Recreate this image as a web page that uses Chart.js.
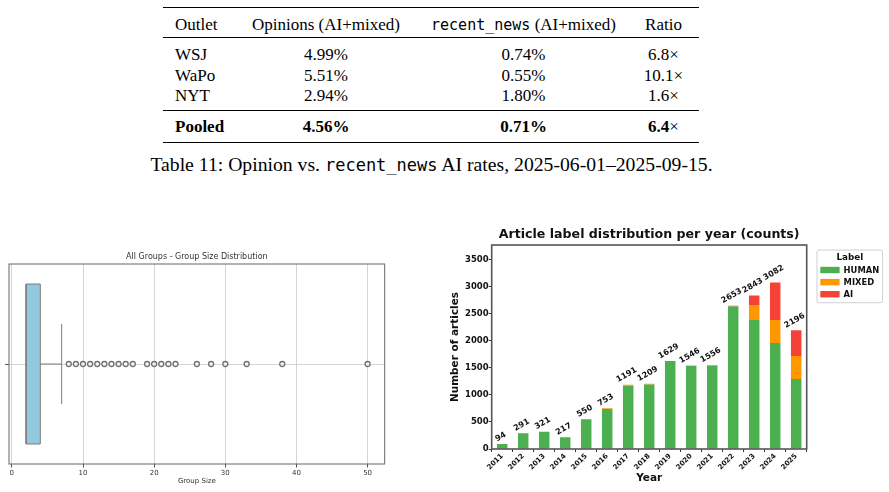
<!DOCTYPE html>
<html>
<head>
<meta charset="utf-8">
<script src="https://cdn.jsdelivr.net/npm/chart.js@4.4.0/dist/chart.umd.min.js"></script>
<style>
    body { margin: 0; background: #fff; width: 889px; height: 492px; overflow: hidden; position: relative; font-family: 'Liberation Serif', serif; color: #000; }
    .t { position: absolute; font-size: 17px; line-height: 17px; white-space: nowrap; }
    .c { text-align: center; width: 220px; }
    .tt { font-family: 'DejaVu Sans Mono', monospace; font-size: 15px; }
    .rule { position: absolute; left: 163px; width: 536px; background: #000; }
    #caption { position: absolute; left: 0; width: 863px; top: 155.3px; text-align: center; font-size: 19.7px; line-height: 19.7px; white-space: nowrap; }
    #caption .tt { font-size: 17px; }
    canvas { position: absolute; }
</style>
</head>
<body>
<div id="table"></div>
<div id="caption">Table 11: Opinion vs. <span class="tt">recent_news</span> AI rates, 2025-06-01–2025-09-15.</div>
<canvas id="GroupSizeChart" width="390" height="252" style="left:0;top:240px"></canvas>
<canvas id="YearLabelChart" width="449" height="272" style="left:440px;top:220px"></canvas>
<script>
// table
var Outlets = ['WSJ', 'WaPo', 'NYT']
var OpinionRate = ['4.99%', '5.51%', '2.94%']
var RecentNewsRate = ['0.74%', '0.55%', '1.80%']
var RatioValue = ['6.8', '10.1', '1.6']
var PooledRow = ['Pooled', '4.56%', '0.71%', '6.4']

// bar chart
var Years = ['2011', '2012', '2013', '2014', '2015', '2016', '2017', '2018', '2019', '2020', '2021', '2022', '2023', '2024', '2025']
var CountHuman = [94, 291, 321, 217, 550, 738, 1171, 1194, 1629, 1536, 1546, 2638, 2389, 1963, 1296]
var CountMixed = [0, 0, 0, 0, 0, 15, 20, 15, 0, 10, 10, 0, 278, 426, 426]
var CountAI = [0, 0, 0, 0, 0, 0, 0, 0, 0, 0, 0, 15, 176, 693, 474]
var CountTicks = [0, 500, 1000, 1500, 2000, 2500, 3000, 3500]

// box plot
var GroupQuartiles = [2, 4]
var GroupWhisker = [4, 7]
var GroupOutliers = [8, 9, 10, 11, 12, 13, 14, 15, 16, 17, 19, 20, 21, 22, 23, 26, 28, 30, 33, 38, 50]
var GroupTicks = [0, 10, 20, 30, 40, 50]

// ---- table built as html
var colCenters = [326, 523.5, 663.5]
var rowTops = [45.8, 66.5, 86.5]
var html = ''
function cell(text, left, top, center, bold) {
    var s = '<div class="t' + (center ? ' c' : '') + '" style="left:' + (center ? left - 110 : left) + 'px;top:' + top + 'px">'
    return s + (bold ? '<b>' + text + '</b>' : text) + '</div>'
}
html += '<div class="rule" style="top:6.6px;height:1.4px"></div>'
html += '<div class="rule" style="top:36.8px;height:0.9px"></div>'
html += '<div class="rule" style="top:109.6px;height:0.9px"></div>'
html += '<div class="rule" style="top:142px;height:1.4px"></div>'
html += cell('Outlet', 175, 15.8, false)
html += cell('Opinions (AI+mixed)', colCenters[0], 15.8, true)
html += cell('<span class="tt">recent_news</span> (AI+mixed)', colCenters[1], 15.8, true)
html += cell('Ratio', colCenters[2], 15.8, true)
for (var i = 0; i < Outlets.length; i++) {
    html += cell(Outlets[i], 175, rowTops[i], false)
    html += cell(OpinionRate[i], colCenters[0], rowTops[i], true)
    html += cell(RecentNewsRate[i], colCenters[1], rowTops[i], true)
    html += cell(RatioValue[i] + '×', colCenters[2], rowTops[i], true)
}
html += cell(PooledRow[0], 175, 117.5, false, true)
html += cell(PooledRow[1], colCenters[0], 117.5, true, true)
html += cell(PooledRow[2], colCenters[1], 117.5, true, true)
html += cell('<b>' + PooledRow[3] + '</b>×', colCenters[2], 117.5, true)
document.getElementById('table').innerHTML = html

// frame around plot area
var framePlugin = {
    id: 'frame',
    afterDraw: function (chart, args, opts) {
        var a = chart.chartArea, ctx = chart.ctx
        ctx.save()
        ctx.strokeStyle = opts.color
        ctx.lineWidth = opts.width
        ctx.strokeRect(a.left, a.top, a.right - a.left, a.bottom - a.top)
        ctx.restore()
    }
}

// ---- box plot
var BOX_HALF = 0.4
var boxPoly = [
    { x: GroupQuartiles[0], y: -BOX_HALF }, { x: GroupQuartiles[1], y: -BOX_HALF },
    { x: GroupQuartiles[1], y: BOX_HALF }, { x: GroupQuartiles[0], y: BOX_HALF },
    { x: GroupQuartiles[0], y: -BOX_HALF }
]
var config_GroupSize = {
    type: 'scatter',
    data: {
        datasets: [
            {
                data: GroupOutliers.map(function (v) { return { x: v, y: 0 } }),
                pointRadius: 2.5,
                pointBorderWidth: 1.3,
                borderColor: '#707070',
                backgroundColor: 'rgba(255,255,255,0.6)',
            },
            {
                data: boxPoly,
                showLine: true,
                fill: 'shape',
                backgroundColor: '#92c9df',
                borderColor: '#7d7d7d',
                borderWidth: 1,
                pointRadius: 0,
            },
            {
                data: GroupWhisker.map(function (v) { return { x: v, y: 0 } }),
                showLine: true,
                borderColor: '#7d7d7d',
                borderWidth: 1,
                pointRadius: 0,
            },
            {
                data: [{ x: GroupWhisker[1], y: -BOX_HALF / 2 }, { x: GroupWhisker[1], y: BOX_HALF / 2 }],
                showLine: true,
                borderColor: '#7d7d7d',
                borderWidth: 1,
                pointRadius: 0,
            },
        ]
    },
    plugins: [framePlugin],
    options: {
        responsive: false,
        animation: false,
        layout: { padding: { right: 4 } },
        plugins: {
            legend: { display: false },
            tooltip: { enabled: false },
            title: {
                display: true,
                fullSize: false,
                text: 'All Groups - Group Size Distribution',
                color: '#333',
                font: { family: 'DejaVu Sans', size: 8, weight: 'normal' },
                padding: { top: 12.2, bottom: 2.2 }
            },
            frame: { color: '#666', width: 1 }
        },
        scales: {
            x: {
                min: -0.4,
                max: 52.4,
                afterBuildTicks: function (s) { s.ticks = GroupTicks.map(function (v) { return { value: v } }) },
                grid: { color: '#d4d4d4', tickColor: '#555', tickLength: 3.5 },
                border: { display: false },
                ticks: { color: '#333', font: { family: 'DejaVu Sans', size: 7 }, padding: 1, maxRotation: 0 },
                title: { display: true, text: 'Group Size', color: '#333', font: { family: 'DejaVu Sans', size: 7 }, padding: { top: 0, bottom: 6.8 } },
                afterFit: function (s) { s.height = 28 }
            },
            y: {
                min: -0.5,
                max: 0.5,
                afterBuildTicks: function (s) { s.ticks = [{ value: 0 }] },
                grid: { color: '#d4d4d4', tickColor: '#555', tickLength: 4 },
                border: { display: false },
                ticks: { display: false },
                afterFit: function (s) { s.width = 9 }
            }
        }
    }
}
new Chart(document.getElementById('GroupSizeChart').getContext('2d'), config_GroupSize)

// ---- stacked bars
var totalsPlugin = {
    id: 'totals',
    afterDatasetsDraw: function (chart) {
        var ctx = chart.ctx, xs = chart.scales.x, ys = chart.scales.y
        var a = Math.PI / 6
        ctx.save()
        ctx.font = 'bold 8px "DejaVu Sans"'
        ctx.fillStyle = '#111'
        ctx.textAlign = 'center'
        ctx.textBaseline = 'middle'
        Years.forEach(function (yr, i) {
            var total = CountHuman[i] + CountMixed[i] + CountAI[i]
            var txt = String(total)
            var w = ctx.measureText(txt).width
            var bh = w * Math.sin(a) + 6 * Math.cos(a)
            var px = xs.getPixelForValue(i) - 1.5
            var py = ys.getPixelForValue(total) - 1.5 - bh / 2
            ctx.save()
            ctx.translate(px, py)
            ctx.rotate(-a)
            ctx.fillText(txt, 0, 0)
            ctx.restore()
        })
        ctx.restore()
    }
}

var legendPlugin = {
    id: 'boxLegend',
    afterDraw: function (chart) {
        var ctx = chart.ctx, a = chart.chartArea
        var x0 = a.right + 10.3, y0 = a.top + 5, w = 65.6, h = 52.7
        ctx.save()
        ctx.fillStyle = '#fff'
        ctx.strokeStyle = '#cfcfcf'
        ctx.lineWidth = 1
        ctx.beginPath()
        ctx.roundRect(x0, y0, w, h, 2)
        ctx.fill()
        ctx.stroke()
        ctx.fillStyle = '#111'
        ctx.textBaseline = 'middle'
        ctx.textAlign = 'center'
        ctx.font = 'bold 8.75px "DejaVu Sans"'
        ctx.fillText('Label', x0 + w / 2, y0 + 7.5)
        ctx.textAlign = 'left'
        ctx.font = 'bold 8.4px "DejaVu Sans"'
        chart.data.datasets.forEach(function (ds, i) {
            var cy = y0 + 20 + i * 12.1
            ctx.fillStyle = ds.backgroundColor
            ctx.fillRect(x0 + 3.3, cy - 3.2, 19.3, 6.4)
            ctx.fillStyle = '#111'
            ctx.fillText(ds.label, x0 + 26.6, cy + 0.5)
        })
        ctx.restore()
    }
}

var boldFont = function (size) { return { family: 'DejaVu Sans', size: size, weight: 'bold' } }
var config_YearLabel = {
    type: 'bar',
    data: {
        labels: Years,
        datasets: [
            { label: 'HUMAN', data: CountHuman, backgroundColor: '#4caf50' },
            { label: 'MIXED', data: CountMixed, backgroundColor: '#ff9800' },
            { label: 'AI', data: CountAI, backgroundColor: '#f44336' },
        ]
    },
    plugins: [framePlugin, totalsPlugin, legendPlugin],
    options: {
        responsive: false,
        animation: false,
        layout: { padding: { right: 82.3 } },
        datasets: { bar: { categoryPercentage: 1, barPercentage: 0.5 } },
        plugins: {
            legend: { display: false },
            tooltip: { enabled: false },
            title: {
                display: true,
                fullSize: false,
                text: 'Article label distribution per year (counts)',
                color: '#111',
                font: boldFont(12.6),
                padding: { top: 7.2, bottom: 2.7 }
            },
            frame: { color: '#555', width: 1.6 }
        },
        scales: {
            x: {
                stacked: true,
                grid: { drawOnChartArea: false, tickLength: 3, tickColor: '#333' },
                border: { display: false },
                ticks: { color: '#111', font: boldFont(7), minRotation: 45, maxRotation: 45, padding: 0 },
                title: { display: true, text: 'Year', color: '#111', font: boldFont(10.5), padding: { top: 0, bottom: 7.7 } },
                afterFit: function (s) { s.height = 43 }
            },
            y: {
                stacked: true,
                min: 0,
                max: 3775,
                afterBuildTicks: function (s) { s.ticks = CountTicks.map(function (v) { return { value: v } }) },
                grid: { drawOnChartArea: false, tickLength: 3, tickColor: '#333' },
                border: { display: false },
                ticks: { color: '#111', font: boldFont(8.5), padding: 0, callback: function (v) { return String(v) } },
                title: { display: true, text: 'Number of articles', color: '#111', font: boldFont(10.5), padding: { top: 8.7, bottom: 0 } },
                afterFit: function (s) { s.width = 51.7 }
            }
        }
    }
}
new Chart(document.getElementById('YearLabelChart').getContext('2d'), config_YearLabel)
</script>
</body>
</html>
